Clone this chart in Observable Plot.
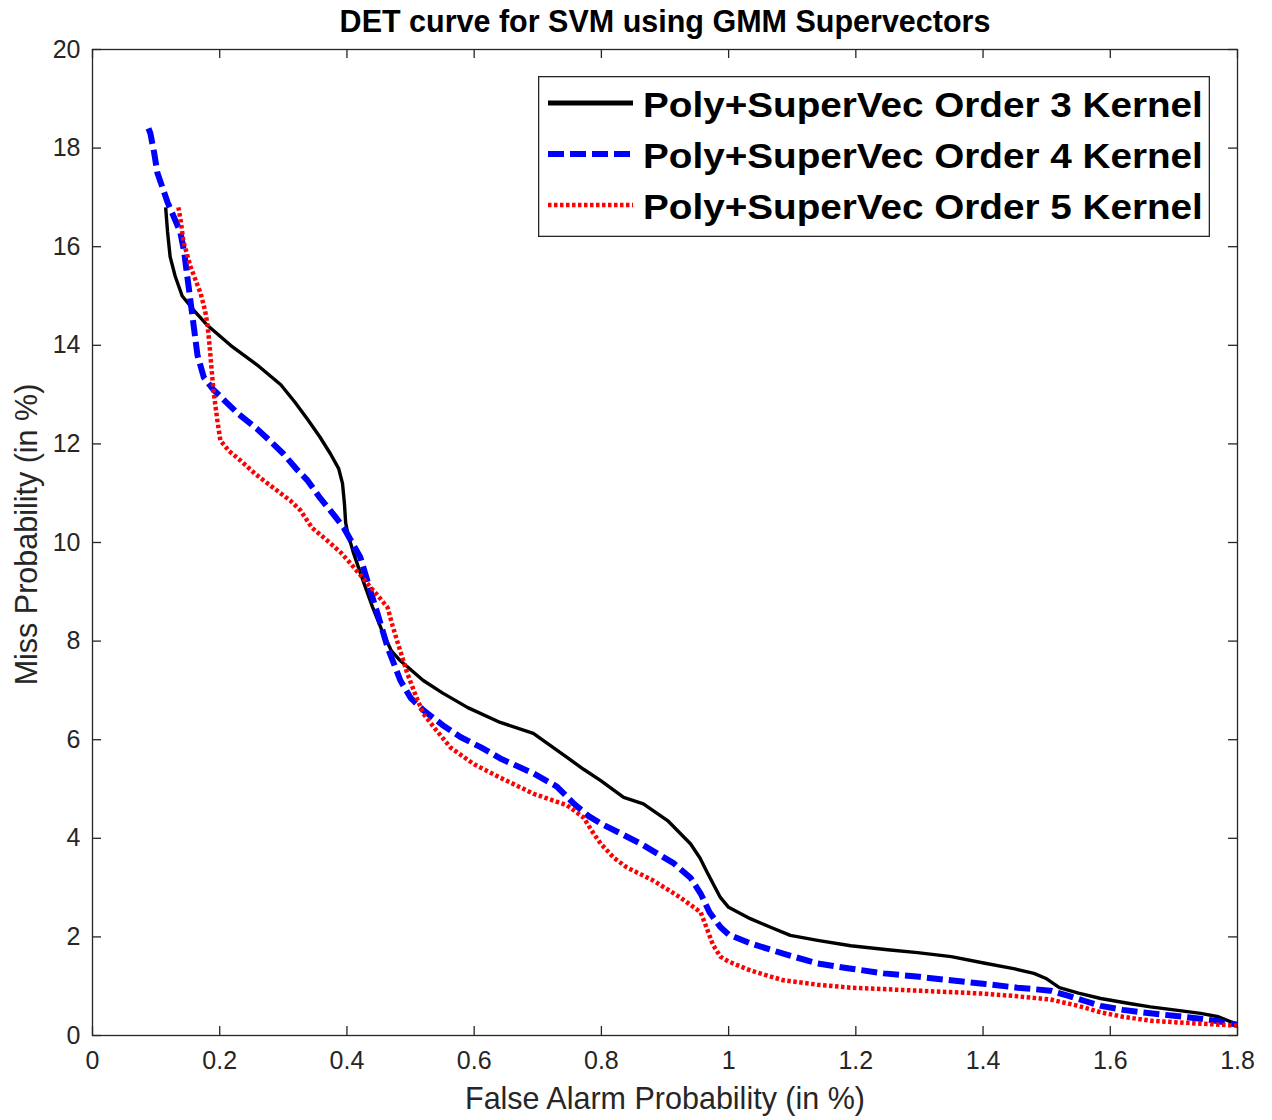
<!DOCTYPE html>
<html>
<head>
<meta charset="utf-8">
<script src="https://cdn.jsdelivr.net/npm/d3@7"></script>
<script src="https://cdn.jsdelivr.net/npm/@observablehq/plot@0.6"></script>
<style>
  html, body { margin: 0; padding: 0; background: #fff; }
  #wrap { position: relative; width: 1272px; height: 1120px; font-family: "Liberation Sans", Arial, Helvetica, sans-serif; }
  #legend { position: absolute; left: 538px; top: 76px; }
</style>
</head>
<body>
<div id="wrap"><div id="chart"></div><div id="legend"></div></div>
<script>
const titleText = "DET curve for SVM using GMM Supervectors";
const xLabel = "False Alarm Probability (in %)";
const yLabel = "Miss Probability (in %)";
const xTicks = [0, 0.2, 0.4, 0.6, 0.8, 1, 1.2, 1.4, 1.6, 1.8];
const yTicks = [0, 2, 4, 6, 8, 10, 12, 14, 16, 18, 20];
const seriesNames = ["Poly+SuperVec Order 3 Kernel", "Poly+SuperVec Order 4 Kernel", "Poly+SuperVec Order 5 Kernel"];

const order3X = [0.115,0.118,0.122,0.13,0.141,0.16,0.181,0.217,0.259,0.296,0.318,0.338,0.357,0.374,0.387,0.393,0.396,0.398,0.401,0.41,0.426,0.44,0.457,0.47,0.484,0.52,0.55,0.59,0.641,0.693,0.72,0.746,0.772,0.799,0.835,0.866,0.904,0.94,0.955,0.967,0.987,1.0,1.034,1.065,1.097,1.14,1.192,1.25,1.297,1.35,1.401,1.45,1.48,1.5,1.52,1.55,1.585,1.63,1.663,1.7,1.742,1.77,1.8];
const order3Y = [16.8,16.3,15.8,15.4,15.0,14.7,14.4,14.0,13.6,13.2,12.85,12.5,12.15,11.8,11.5,11.2,10.8,10.4,10.2,9.8,9.2,8.7,8.15,7.8,7.6,7.2,6.95,6.65,6.35,6.13,5.88,5.64,5.4,5.17,4.83,4.7,4.36,3.89,3.6,3.29,2.8,2.6,2.37,2.2,2.03,1.93,1.82,1.74,1.68,1.6,1.47,1.35,1.26,1.15,0.97,0.86,0.75,0.65,0.58,0.52,0.45,0.38,0.22];

const order4X = [0.088,0.091,0.097,0.102,0.11,0.118,0.128,0.138,0.144,0.149,0.153,0.157,0.161,0.165,0.175,0.19,0.206,0.23,0.259,0.28,0.3,0.32,0.338,0.358,0.38,0.395,0.421,0.435,0.448,0.464,0.484,0.5,0.52,0.55,0.579,0.61,0.641,0.694,0.73,0.757,0.78,0.799,0.83,0.862,0.914,0.94,0.956,0.97,0.987,1.0,1.034,1.086,1.14,1.19,1.244,1.3,1.349,1.4,1.454,1.506,1.533,1.56,1.585,1.62,1.663,1.7,1.742,1.77,1.8];
const order4Y = [18.4,18.3,17.9,17.5,17.2,16.9,16.6,16.3,15.9,15.4,15.0,14.6,14.2,13.8,13.35,13.1,12.9,12.6,12.3,12.05,11.8,11.5,11.26,10.9,10.55,10.3,9.7,9.1,8.56,7.87,7.2,6.85,6.6,6.3,6.05,5.85,5.62,5.31,5.05,4.7,4.45,4.3,4.1,3.89,3.49,3.2,2.88,2.5,2.2,2.05,1.87,1.66,1.46,1.36,1.26,1.19,1.12,1.05,0.97,0.91,0.81,0.7,0.6,0.52,0.45,0.4,0.34,0.29,0.22];

const order5X = [0.135,0.139,0.143,0.154,0.17,0.177,0.181,0.184,0.186,0.19,0.196,0.201,0.215,0.233,0.255,0.275,0.311,0.327,0.345,0.369,0.39,0.406,0.432,0.45,0.464,0.472,0.479,0.495,0.508,0.52,0.54,0.563,0.6,0.641,0.694,0.746,0.772,0.785,0.799,0.82,0.84,0.882,0.924,0.956,0.965,0.975,0.987,1.0,1.034,1.086,1.14,1.192,1.297,1.4,1.45,1.506,1.55,1.585,1.62,1.663,1.7,1.742,1.8];
const order5Y = [16.8,16.5,16.1,15.6,15.05,14.7,14.4,14.0,13.7,13.1,12.5,12.07,11.85,11.66,11.4,11.2,10.85,10.65,10.3,10.04,9.8,9.57,9.17,8.9,8.68,8.3,8.0,7.34,6.9,6.53,6.2,5.84,5.5,5.23,4.9,4.67,4.42,4.15,3.89,3.6,3.41,3.14,2.8,2.5,2.2,1.85,1.6,1.5,1.32,1.12,1.03,0.97,0.91,0.85,0.8,0.73,0.6,0.47,0.38,0.3,0.27,0.24,0.2];

const styles = [
  {stroke: "#000000", strokeWidth: 3.4, dash: null},
  {stroke: "#0000ff", strokeWidth: 6, dash: "16,6"},
  {stroke: "#ff0000", strokeWidth: 4.5, dash: "3.5,2.5"}
];

const xs = [order3X, order4X, order5X];
const ys = [order3Y, order4Y, order5Y];
const table = seriesNames.map((name, i) => xs[i].map((x, j) => ({series: name, x, y: ys[i][j]})));

const W = 1272, H = 1120, mL = 92, mR = 35, mT = 49, mB = 85;
const frameW = W - mL - mR, frameH = H - mT - mB;
const axisColor = "#262626";
const tick = 9;

const chart = Plot.plot({
  width: W, height: H,
  marginLeft: mL, marginRight: mR, marginTop: mT, marginBottom: mB,
  style: {fontFamily: '"Liberation Sans", Arial, Helvetica, sans-serif', color: axisColor, background: "#fff"},
  x: {domain: [0, 1.8], axis: null},
  y: {domain: [0, 20], axis: null},
  marks: [
    ...table.map((d, i) => Plot.line(d, {
      x: "x", y: "y", stroke: styles[i].stroke, strokeWidth: styles[i].strokeWidth,
      strokeDasharray: styles[i].dash, strokeLinejoin: "round", strokeLinecap: "butt", curve: "linear"
    })),
    Plot.frame({stroke: axisColor, strokeWidth: 1.3}),
    Plot.tickX(xTicks, {x: d => d, insetTop: frameH - tick, stroke: axisColor, strokeWidth: 1.3}),
    Plot.tickX(xTicks, {x: d => d, insetBottom: frameH - tick, stroke: axisColor, strokeWidth: 1.3}),
    Plot.tickY(yTicks, {y: d => d, insetRight: frameW - tick, stroke: axisColor, strokeWidth: 1.3}),
    Plot.tickY(yTicks, {y: d => d, insetLeft: frameW - tick, stroke: axisColor, strokeWidth: 1.3}),
    Plot.axisX(xTicks, {anchor: "bottom", tickSize: 0, tickPadding: 16, fontSize: 25, fill: axisColor, tickFormat: d => String(d), label: null}),
    Plot.axisY(yTicks, {anchor: "left", tickSize: 0, tickPadding: 12, fontSize: 25, fill: axisColor, tickFormat: d => String(d), label: null}),
    Plot.text([titleText], {frameAnchor: "top", text: d => d, lineAnchor: "bottom", dy: -18, fontSize: 30.5, fontWeight: "bold", fill: "#000"}),
    Plot.text([xLabel], {frameAnchor: "bottom", text: d => d, lineAnchor: "bottom", dy: 73, fontSize: 30.5, fill: axisColor}),
    Plot.text([yLabel], {frameAnchor: "left", text: d => d, rotate: -90, textAnchor: "middle", lineAnchor: "middle", dx: -65, dy: -8, fontSize: 30.5, fill: axisColor})
  ]
});
document.getElementById("chart").appendChild(chart);

// Legend box drawn inside the plot area (top-right)
const LW = 672, LH = 161;
const leg = d3.select("#legend").append("svg").attr("width", LW).attr("height", LH)
  .style("font-family", '"Liberation Sans", Arial, Helvetica, sans-serif');
leg.append("rect").attr("x", 0.65).attr("y", 0.65).attr("width", LW - 1.3).attr("height", LH - 1.3)
  .attr("fill", "#fff").attr("stroke", axisColor).attr("stroke-width", 1.3);
seriesNames.forEach((name, i) => {
  const cy = 27 + i * 51;
  leg.append("line").attr("x1", 10).attr("x2", 95).attr("y1", cy).attr("y2", cy)
    .attr("stroke", styles[i].stroke).attr("stroke-width", i === 0 ? 5 : styles[i].strokeWidth)
    .attr("stroke-dasharray", styles[i].dash);
  leg.append("text").attr("x", 105).attr("y", cy + 14)
    .attr("font-size", 35).attr("font-weight", "bold").attr("fill", "#000")
    .attr("transform", `translate(105,0) scale(1.105,1) translate(-105,0)`)
    .text(name);
});
</script>
</body>
</html>
